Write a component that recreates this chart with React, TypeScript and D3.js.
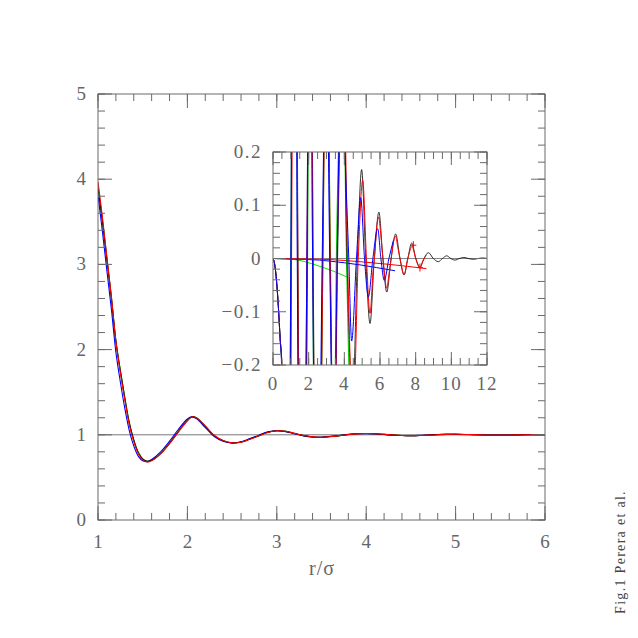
import React from "react";
import * as d3 from "d3";

// ---------- main panel data: g(r) ----------
const rMain = [1.0,1.05,1.1,1.15,1.2,1.25,1.3,1.35,1.4,1.45,1.5,1.55,1.6,1.7,1.8,1.9,2.0,2.05,2.1,2.2,2.3,2.4,2.5,2.6,2.7,2.8,2.9,3.0,3.1,3.2,3.3,3.4,3.5,3.6,3.7,3.8,3.9,4.0,4.1,4.2,4.3,4.4,4.5,4.6,4.7,4.8,4.9,5.0,5.2,5.4,5.6,5.8,6.0];
const gBlack = [3.9,3.5,3.05,2.6,2.1,1.75,1.43,1.14,0.94,0.79,0.715,0.69,0.7,0.78,0.9,1.04,1.17,1.21,1.2,1.1,0.99,0.93,0.905,0.915,0.95,0.99,1.03,1.048,1.04,1.015,0.99,0.975,0.972,0.98,0.99,1.003,1.012,1.015,1.012,1.005,0.997,0.992,0.99,0.992,0.997,1.002,1.005,1.006,1.002,0.997,0.998,1.001,1.0];
const gRed = [3.97,3.55,3.08,2.62,2.1,1.73,1.41,1.12,0.92,0.78,0.705,0.68,0.695,0.775,0.895,1.035,1.165,1.21,1.2,1.105,0.995,0.932,0.905,0.913,0.948,0.988,1.027,1.047,1.041,1.017,0.992,0.976,0.972,0.979,0.99,1.002,1.011,1.015,1.012,1.006,0.998,0.992,0.99,0.992,0.996,1.001,1.005,1.006,1.002,0.997,0.998,1.001,1.0];
const gBlue = [3.81,3.38,2.92,2.47,1.97,1.62,1.31,1.05,0.87,0.75,0.695,0.685,0.71,0.8,0.925,1.065,1.185,1.21,1.19,1.085,0.98,0.924,0.903,0.918,0.955,0.996,1.034,1.047,1.036,1.011,0.987,0.974,0.972,0.981,0.992,1.005,1.013,1.014,1.01,1.003,0.995,0.991,0.99,0.993,0.998,1.003,1.005,1.005,1.001,0.997,0.998,1.001,1.0];
const gGreen = [3.92,3.52,3.07,2.62,2.11,1.76,1.44,1.15,0.94,0.8,0.72,0.69,0.7,0.78,0.9,1.04,1.17,1.212,1.2,1.1,0.99,0.93,0.905,0.915,0.95,0.99,1.03,1.048,1.04,1.015,0.99,0.975,0.972,0.98,0.99,1.003,1.012,1.015,1.012,1.005,0.997,0.992,0.99,0.992,0.997,1.002,1.005,1.006,1.002,0.997,0.998,1.001,1.0];

const mainXTicks = [1, 2, 3, 4, 5, 6];
const mainYTicks = [0, 1, 2, 3, 4, 5];

// ---------- inset data ----------
const insetBlack: [number, number][] = [[0,0],[0.1,-0.012],[0.2,-0.043],[0.3,-0.09],[0.4,-0.15],[0.49,-0.2],[0.62,-0.5],[0.78,-1.1],[1.02,0],[1.2,1.3],[1.4,0],[1.6,-1.0],[1.92,0],[2.08,0.9],[2.25,0],[2.5,-0.75],[2.78,0],[3.0,0.6],[3.2,0],[3.42,-0.45],[3.62,0],[3.92,0.38],[4.15,0],[4.46,-0.27],[4.73,0],[4.97,0.167],[5.2,0],[5.44,-0.122],[5.68,0],[5.94,0.087],[6.16,0],[6.38,-0.063],[6.62,0],[6.88,0.046],[7.12,0],[7.35,-0.031],[7.56,0],[7.78,0.029],[8.01,0],[8.24,-0.016],[8.47,0],[8.71,0.011],[8.99,0],[9.27,-0.006],[9.5,0],[9.74,0.005],[9.97,0],[10.2,-0.003],[10.45,0],[10.7,0.002],[10.95,0],[11.25,-0.0015],[11.5,0],[11.75,0.001],[12,0]];
const insetGreen: [number, number][] = [[0,0],[0.1,-0.012],[0.2,-0.043],[0.3,-0.09],[0.4,-0.15],[0.49,-0.2],[0.62,-0.5],[0.78,-1.1],[1.0,0],[1.2,1.3],[1.38,0],[1.6,-1.0],[1.94,0],[2.08,0.9],[2.22,0],[2.5,-0.75],[2.8,0],[3.0,0.6],[3.22,0],[3.42,-0.45],[3.55,0],[3.92,0.38],[4.12,0],[4.25,-0.2]];
const insetRed: [number, number][] = [[0,0],[0.1,-0.012],[0.2,-0.043],[0.3,-0.09],[0.4,-0.15],[0.5,-0.2],[0.63,-0.5],[0.8,-1.1],[1.04,0],[1.22,1.3],[1.39,0],[1.62,-1.0],[1.9,0],[2.1,0.9],[2.24,0],[2.52,-0.75],[2.8,0],[3.02,0.6],[3.21,0],[3.45,-0.45],[3.6,0],[3.95,0.38],[4.18,0],[4.49,-0.3],[4.78,0],[5.03,0.147],[5.24,0],[5.44,-0.103],[5.62,-0.02],[5.7,0.005],[5.82,0.06],[5.94,0.078],[6.0,0.06],[6.17,0],[6.38,-0.056],[6.5,-0.03],[6.63,0],[6.75,0.03],[6.88,0.042],[6.95,0.03],[7.12,0],[7.35,-0.03],[7.56,0],[7.8,0.023],[8.0,0],[8.24,-0.018],[8.4,-0.005],[8.58,0.006]];
const insetBlue: [number, number][] = [[0,0],[0.1,-0.012],[0.2,-0.043],[0.3,-0.09],[0.4,-0.15],[0.48,-0.2],[0.6,-0.5],[0.76,-1.1],[1.0,0],[1.18,1.2],[1.36,0],[1.58,-0.9],[1.9,0],[2.06,0.8],[2.22,0],[2.48,-0.65],[2.76,0],[2.98,0.5],[3.18,0],[3.4,-0.4],[3.6,0],[3.85,0.45],[4.04,0.2],[4.25,0],[4.41,-0.155],[4.68,0],[4.92,0.114],[5.13,0],[5.35,-0.072],[5.6,0],[5.87,0.056],[6.05,0],[6.24,-0.041],[6.5,0],[6.75,0.034]];
const tailRed: [number, number][] = [[0,0],[1,-0.0005],[2,-0.001],[3.2,-0.002],[4.88,-0.006],[6.5,-0.011],[8.6,-0.019]];
const tailBlue: [number, number][] = [[0,0],[1,-0.001],[2.6,-0.003],[3.2,-0.005],[4.0,-0.008],[4.88,-0.012],[5.8,-0.017],[6.84,-0.023]];
const tailGreen: [number, number][] = [[0,0],[0.95,-0.001],[1.8,-0.006],[2.64,-0.015],[3.4,-0.024],[4.23,-0.036]];
const redMarkers: [number, number][] = [[7.87,0.025],[8.24,-0.017]];

const insetXTicks = [0, 2, 4, 6, 8, 10, 12];
const insetYTicks = [-0.2, -0.1, 0, 0.1, 0.2];

const AX = "#6a6a6a";
const TXT = "#666";
const FONT = "'Liberation Serif', 'DejaVu Serif', serif";

function fmtInset(v: number) {
  if (Math.abs(v) < 1e-9) return "0";
  const s = Math.abs(v).toFixed(1);
  return v < 0 ? "\u2212" + s : s;
}

function Frame({ x, y, xMinor, yMinor, xMajor, yMajor, majLen, minLen }: any) {
  const [x0, x1] = x.range();
  const [y0, y1] = y.range();
  const els: any[] = [];
  xMinor.forEach((t: number, i: number) => {
    const px = x(t);
    els.push(<line key={"xb" + i} x1={px} x2={px} y1={y0} y2={y0 - minLen} />);
    els.push(<line key={"xt" + i} x1={px} x2={px} y1={y1} y2={y1 + minLen} />);
  });
  xMajor.forEach((t: number, i: number) => {
    const px = x(t);
    els.push(<line key={"xB" + i} x1={px} x2={px} y1={y0} y2={y0 - majLen} />);
    els.push(<line key={"xT" + i} x1={px} x2={px} y1={y1} y2={y1 + majLen} />);
  });
  yMinor.forEach((t: number, i: number) => {
    const py = y(t);
    els.push(<line key={"yl" + i} x1={x0} x2={x0 + minLen} y1={py} y2={py} />);
    els.push(<line key={"yr" + i} x1={x1} x2={x1 - minLen} y1={py} y2={py} />);
  });
  yMajor.forEach((t: number, i: number) => {
    const py = y(t);
    els.push(<line key={"yL" + i} x1={x0} x2={x0 + majLen} y1={py} y2={py} />);
    els.push(<line key={"yR" + i} x1={x1} x2={x1 - majLen} y1={py} y2={py} />);
  });
  return (
    <g stroke={AX} strokeWidth={1} fill="none">
      {els}
      <rect x={x0} y={y1} width={x1 - x0} height={y0 - y1} />
    </g>
  );
}

export default function App() {
  const mx = d3.scaleLinear().domain([1, 6]).range([98, 545]);
  const my = d3.scaleLinear().domain([0, 5]).range([520, 94]);
  const ix = d3.scaleLinear().domain([0, 12]).range([273, 487]);
  const iy = d3.scaleLinear().domain([-0.2, 0.2]).range([365, 152]);

  const mainLine = d3
    .line<number>()
    .x((_, i) => mx(rMain[i]))
    .y((d) => my(d))
    .curve(d3.curveCatmullRom.alpha(0.5));
  const insetLine = d3
    .line<[number, number]>()
    .x((d) => ix(d[0]))
    .y((d) => iy(d[1]))
    .curve(d3.curveMonotoneX);

  const mainXMinor = d3.range(0, 26).map((i) => 1 + i * 0.2);
  const mainYMinor = d3.range(0, 26).map((i) => i * 0.2);
  const insetXMinor = d3.range(0, 25).map((i) => i * 0.5);
  const insetYMinor = d3.range(0, 21).map((i) => -0.2 + i * 0.02);

  return (
    <svg width={638} height={638} style={{ position: "absolute", left: 0, top: 0, background: "#fff" }} fontFamily={FONT}>
      <rect x={0} y={0} width={638} height={638} fill="#fff" />
      <defs>
        <clipPath id="mainClip">
          <rect x={98} y={94} width={447} height={426} />
        </clipPath>
        <clipPath id="insetClip">
          <rect x={273} y={152} width={214} height={213} />
        </clipPath>
      </defs>

      {/* main panel */}
      <line x1={mx(1)} x2={mx(6)} y1={my(1)} y2={my(1)} stroke="#777" strokeWidth={1} />
      <g clipPath="url(#mainClip)" fill="none" strokeWidth={1.1}>
        <path d={mainLine(gGreen) || ""} stroke="#00dd00" />
        <path d={mainLine(gBlue) || ""} stroke="#0000ff" />
        <path d={mainLine(gBlack) || ""} stroke="#000" />
        <path d={mainLine(gRed) || ""} stroke="#ff0000" />
      </g>
      <Frame x={mx} y={my} xMinor={mainXMinor} yMinor={mainYMinor} xMajor={mainXTicks} yMajor={mainYTicks} majLen={14} minLen={7} />
      <g fill={TXT} fontSize={19}>
        {mainXTicks.map((t) => (
          <text key={"mx" + t} x={mx(t)} y={548} textAnchor="middle">{t}</text>
        ))}
        {mainYTicks.map((t) => (
          <text key={"my" + t} x={86} y={my(t) + 6} textAnchor="end">{t}</text>
        ))}
        <text x={322} y={575} textAnchor="middle" fontSize={20} letterSpacing={1}>r/σ</text>
      </g>

      {/* inset */}
      <rect x={273} y={152} width={214} height={213} fill="#fff" />
      <line x1={ix(0)} x2={ix(12)} y1={iy(0)} y2={iy(0)} stroke="#888" strokeWidth={1} />
      <g clipPath="url(#insetClip)" fill="none">
        <path d={insetLine(tailGreen) || ""} stroke="#00ee00" strokeWidth={1} />
        <path d={insetLine(tailBlue) || ""} stroke="#0000ff" strokeWidth={1} />
        <path d={insetLine(tailRed) || ""} stroke="#ff0000" strokeWidth={1} />
        <path d={insetLine(insetGreen) || ""} stroke="#00cc00" strokeWidth={1} />
        <path d={insetLine(insetBlack) || ""} stroke="#000" strokeWidth={0.8} />
        <path d={insetLine(insetRed) || ""} stroke="#ff0000" strokeWidth={1} />
        <path d={insetLine(insetBlue) || ""} stroke="#0000ff" strokeWidth={1} />
        {redMarkers.map((d, i) => (
          <g key={"rm" + i} stroke="#ff0000" strokeWidth={1}>
            <line x1={ix(d[0]) - 3} x2={ix(d[0]) + 3} y1={iy(d[1])} y2={iy(d[1])} />
            <line x1={ix(d[0])} x2={ix(d[0])} y1={iy(d[1]) - 4} y2={iy(d[1]) + 4} />
          </g>
        ))}
      </g>
      <Frame x={ix} y={iy} xMinor={insetXMinor} yMinor={insetYMinor} xMajor={insetXTicks} yMajor={insetYTicks} majLen={13} minLen={7} />
      <g fill={TXT} fontSize={19}>
        {insetXTicks.map((t) => (
          <text key={"ix" + t} x={ix(t)} y={390} textAnchor="middle" letterSpacing={1}>{t}</text>
        ))}
        {insetYTicks.map((t) => (
          <text key={"iy" + t} x={262} y={iy(t) + 6} textAnchor="end" letterSpacing={1.5}>{fmtInset(t)}</text>
        ))}
      </g>

      <text x={0} y={0} transform="translate(625,552) rotate(-90)" textAnchor="middle" fontSize={14} letterSpacing={1.3} fill="#444">
        Fig.1 Perera et al.
      </text>
    </svg>
  );
}
